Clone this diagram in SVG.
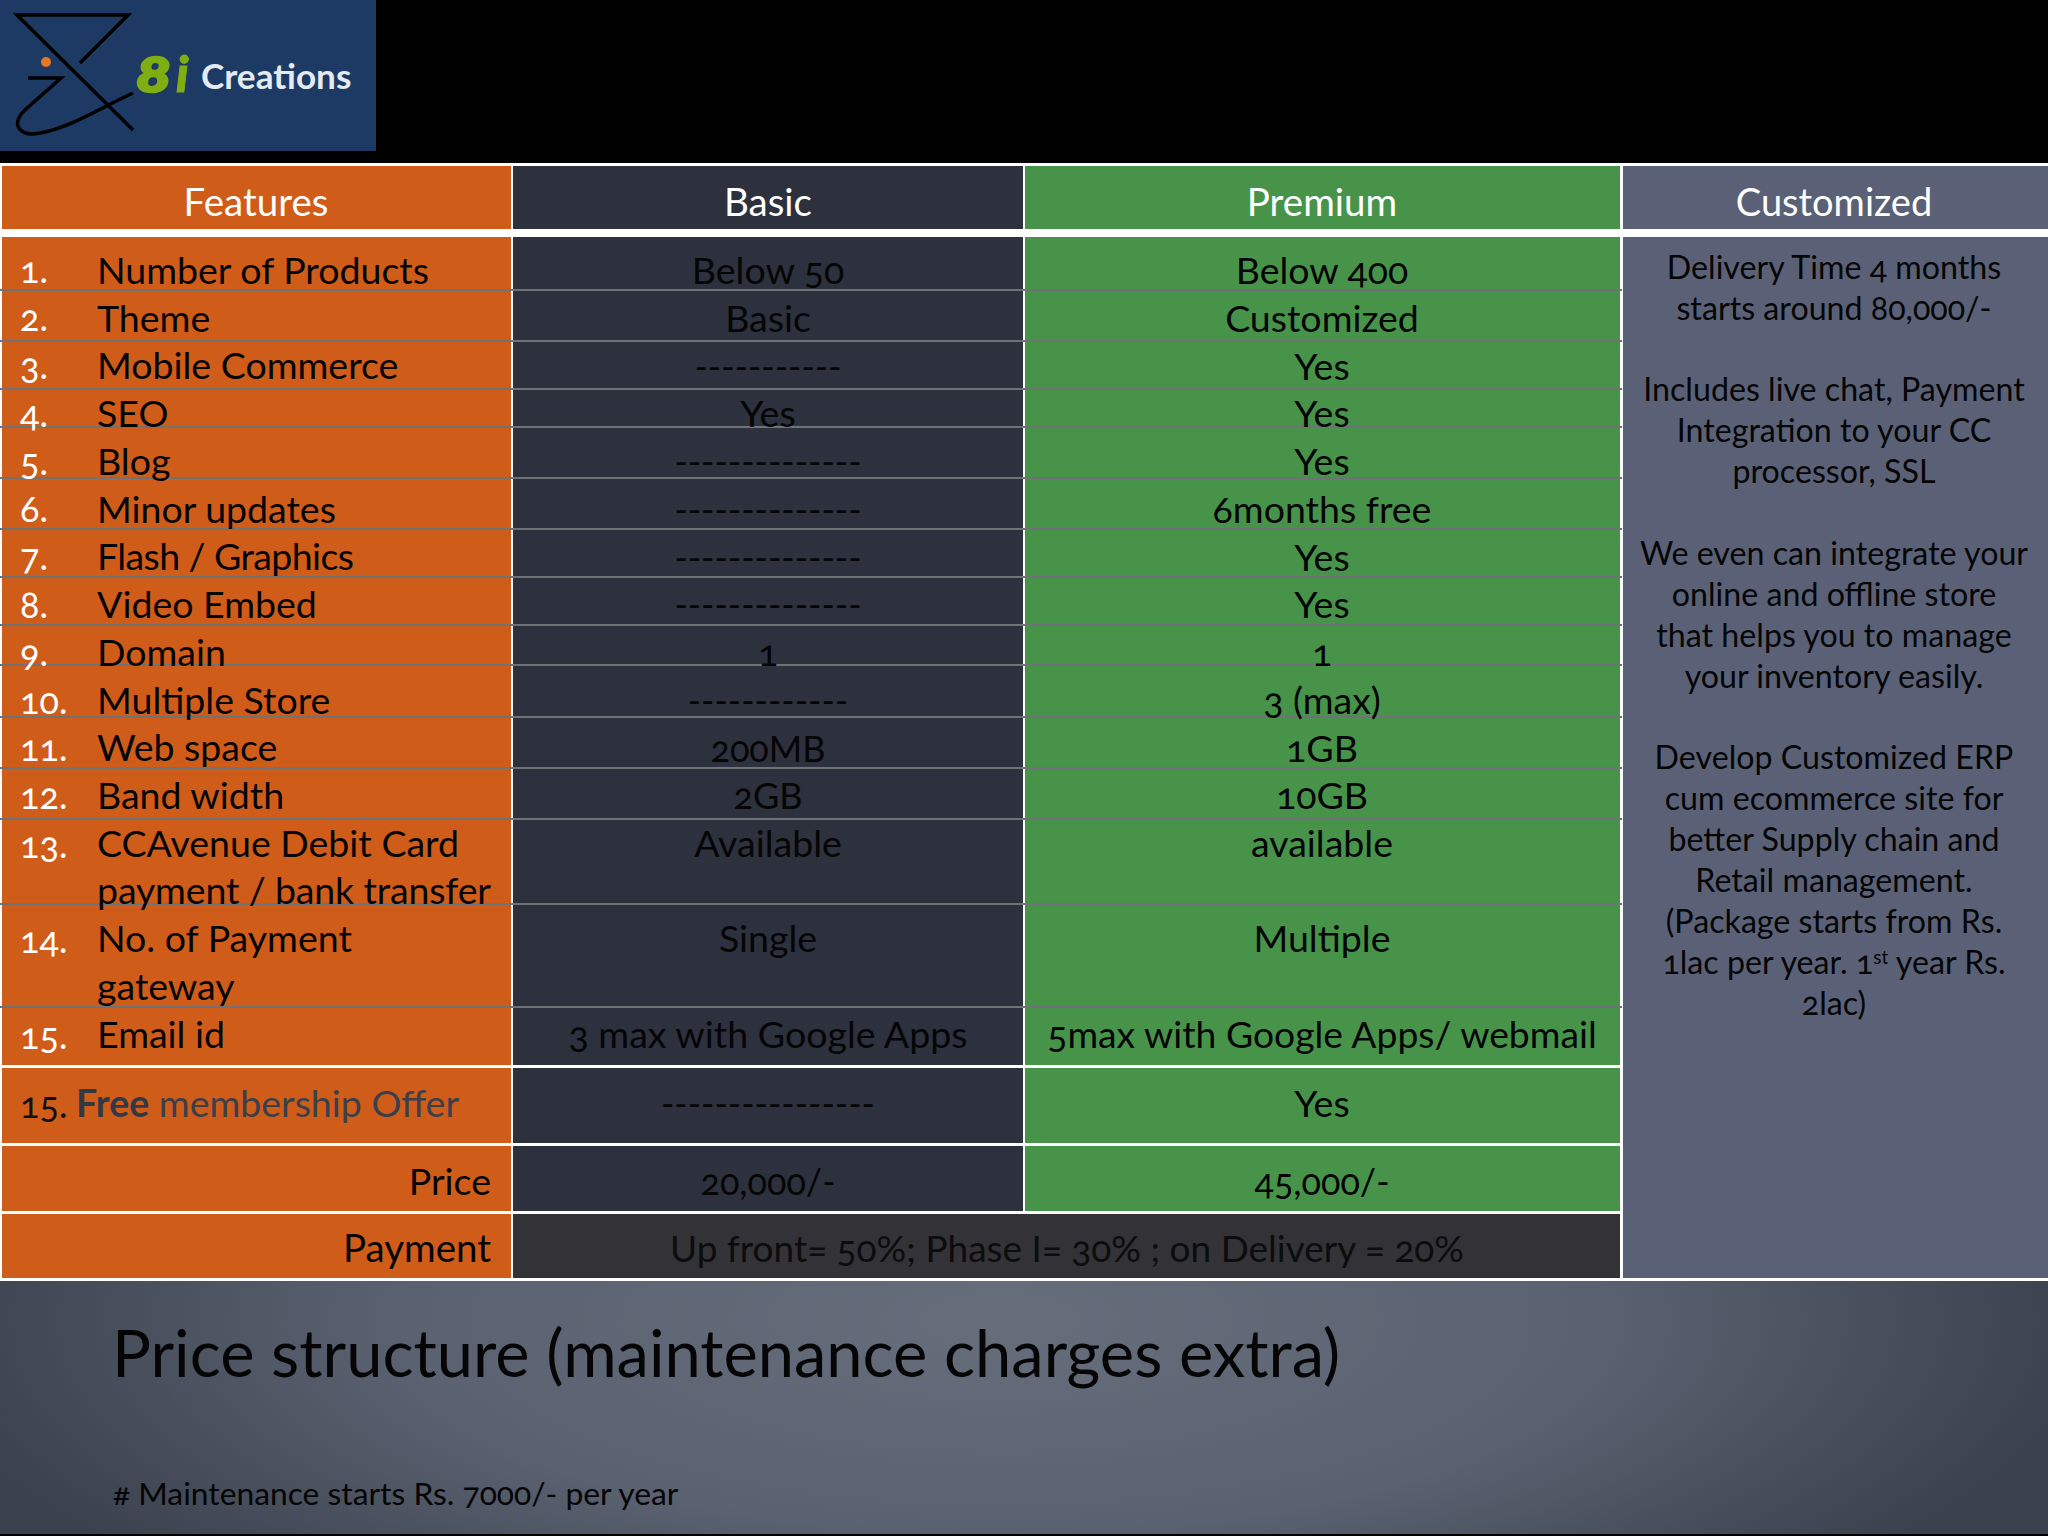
<svg xmlns="http://www.w3.org/2000/svg" width="2048" height="1536" viewBox="0 0 2048 1536">
<defs>
<radialGradient id="foot" gradientUnits="userSpaceOnUse" cx="1000" cy="1320" r="1090" gradientTransform="translate(0 858) scale(1 .35)"><stop offset="0" stop-color="#666e7c"/><stop offset=".55" stop-color="#5a6170"/><stop offset="1" stop-color="#3b414d"/></radialGradient>
</defs>
<style>
text{font-family:"Lato","Open Sans","Liberation Sans",sans-serif;font-size:37.5px;fill:#050505;font-feature-settings:"onum" 1;font-variant-numeric:oldstyle-nums}
.h{fill:#fff;text-anchor:middle;font-size:38.5px}
.n{fill:#fff;font-size:36px}
.m{text-anchor:middle}
.d{text-anchor:middle;font-size:36px}
.e{text-anchor:end}
.c{text-anchor:middle;font-size:32.2px}
.o{fill:#d05c1a}.b{fill:#2d303d}.g{fill:#47934a}.u{fill:#5a6177}
.l{stroke:#6f7277;stroke-width:2}
.v{font-weight:900;font-style:italic;fill:#7fae12;stroke:#7fae12;font-variant-numeric:lining-nums;font-feature-settings:normal}
</style>
<rect width="2048" height="1536" fill="#000"/>
<g id="logo">
<rect width="376" height="151" fill="#1c3a64"/>
<path d="M80 63L128 15H17L133 130M28 78H61L25 110C10 125 20 137 40 133C70 128 100 108 133 93" fill="none" stroke="#000" stroke-width="3.5"/>
<circle cx="46" cy="62" r="5" fill="#e8781f"/>
<text class="v" transform="translate(136 92) scale(1.25 1)" style="font-size:48px;stroke-width:2.5">8</text>
<text class="v" x="176" y="92" style="font-size:50px;stroke-width:1">i</text>
<text x="201" y="89" style="font-size:35.2px;font-weight:700;fill:#e4eaf2">Creations</text>
</g>
<rect id="sheet" y="163" width="2048" height="1118" fill="#fff"/>
<g id="cells">
<rect x="2" y="166" width="509" height="63" class="o"/><rect x="513" y="166" width="510" height="63" class="b"/><rect x="1025" y="166" width="595" height="63" class="g"/><rect x="1623" y="166" width="425" height="63" class="u"/>
<rect x="2" y="237" width="509" height="828" class="o"/><rect x="513" y="237" width="510" height="828" class="b"/><rect x="1025" y="237" width="595" height="828" class="g"/>
<rect x="2" y="1068" width="509" height="75" class="o"/><rect x="513" y="1068" width="510" height="75" class="b"/><rect x="1025" y="1068" width="595" height="75" class="g"/>
<rect x="2" y="1146" width="509" height="65" class="o"/><rect x="513" y="1146" width="510" height="65" class="b"/><rect x="1025" y="1146" width="595" height="65" class="g"/>
<rect x="2" y="1214" width="509" height="64" class="o"/><rect x="513" y="1214" width="1107" height="64" fill="#323237"/>
<rect x="1623" y="237" width="425" height="1041" class="u"/>
</g>
<g id="rules">
<path class="l" d="M0 290H1622M0 341H1622M0 389H1622M0 427H1622M0 478H1622M0 529H1622M0 577H1622M0 625H1622M0 665H1622M0 717H1622M0 768H1622M0 819H1622M0 904H1622M0 1007H1622"/>
</g>
<g id="header">
<text class="h" x="256" y="216">Features</text><text class="h" x="768" y="216">Basic</text><text class="h" x="1322" y="216">Premium</text><text class="h" x="1834" y="216" style="font-size:38px">Customized</text>
</g>
<g id="numbers">
<text class="n" x="20" y="283">1.</text><text class="n" x="20" y="331">2.</text><text class="n" x="20" y="379">3.</text><text class="n" x="20" y="427">4.</text><text class="n" x="20" y="475">5.</text><text class="n" x="20" y="522">6.</text><text class="n" x="20" y="570">7.</text><text class="n" x="20" y="618">8.</text><text class="n" x="20" y="666">9.</text><text class="n" x="20" y="714">10.</text><text class="n" x="20" y="761">11.</text><text class="n" x="20" y="809">12.</text><text class="n" x="20" y="858">13.</text><text class="n" x="20" y="953">14.</text><text class="n" x="20" y="1049">15.</text><text class="n" x="20" y="1118" style="fill:#111">15.</text>
</g>
<g id="features">
<text x="97" y="284">Number of Products</text><text x="97" y="332">Theme</text><text x="97" y="379">Mobile Commerce</text><text x="97" y="427">SEO</text><text x="97" y="475">Blog</text><text x="97" y="523">Minor updates</text><text x="97" y="570" textLength="257">Flash / Graphics</text><text x="97" y="618">Video Embed</text><text x="97" y="666">Domain</text><text x="97" y="714">Multiple Store</text><text x="97" y="761">Web space</text><text x="97" y="809">Band width</text><text x="97" y="857">CCAvenue Debit Card</text><text x="97" y="904" textLength="394">payment / bank transfer</text><text x="97" y="952">No. of Payment</text><text x="97" y="1000">gateway</text><text x="97" y="1048">Email id</text>
<text x="76" y="1117"><tspan style="font-weight:700;fill:#333845">Free</tspan><tspan style="fill:#3a3f4a"> membership Offer</tspan></text>
<text class="e" x="491" y="1195">Price</text><text class="e" x="491" y="1262" style="font-size:38.5px">Payment</text>
</g>
<g id="basic">
<text class="m" x="768" y="284">Below 50</text><text class="m" x="768" y="332">Basic</text><text class="d" x="768" y="380">-----------</text><text class="m" x="768" y="427">Yes</text><text class="d" x="768" y="475">--------------</text><text class="d" x="768" y="523">--------------</text><text class="d" x="768" y="571">--------------</text><text class="d" x="768" y="618">--------------</text><text class="m" x="768" y="666">1</text><text class="d" x="768" y="714">------------</text><text class="d" x="768" y="762">200MB</text><text class="d" x="768" y="809">2GB</text><text class="m" x="768" y="857">Available</text><text class="m" x="768" y="952">Single</text><text class="m" x="768" y="1048">3 max with Google Apps</text><text class="d" x="768" y="1117">----------------</text><text class="d" x="768" y="1195">20,000/-</text>
</g>
<g id="premium">
<text class="m" x="1322" y="284">Below 400</text><text class="m" x="1322" y="332">Customized</text><text class="m" x="1322" y="380">Yes</text><text class="m" x="1322" y="427">Yes</text><text class="m" x="1322" y="475">Yes</text><text class="m" x="1322" y="523">6months free</text><text class="m" x="1322" y="571">Yes</text><text class="m" x="1322" y="618">Yes</text><text class="m" x="1322" y="666">1</text><text class="m" x="1322" y="714">3 (max)</text><text class="m" x="1322" y="762">1GB</text><text class="m" x="1322" y="809">10GB</text><text class="m" x="1322" y="857">available</text><text class="m" x="1322" y="952">Multiple</text><text class="m" x="1322" y="1048" style="font-size:37.3px">5max with Google Apps/ webmail</text><text class="m" x="1322" y="1117">Yes</text><text class="d" x="1322" y="1195">45,000/-</text>
<text class="m" x="1067" y="1262" style="fill:#0c0c0c;font-size:37px">Up front= 50%; Phase I= 30% ; on Delivery = 20%</text>
</g>
<g id="customized">
<text class="c" x="1834" y="279">Delivery Time 4 months</text><text class="c" x="1834" y="320">starts around 80,000/-</text>
<text class="c" x="1834" y="401">Includes live chat, Payment</text><text class="c" x="1834" y="442">Integration to your CC</text><text class="c" x="1834" y="483">processor, SSL</text>
<text class="c" x="1834" y="565">We even can integrate your</text><text class="c" x="1834" y="606">online and offline store</text><text class="c" x="1834" y="647">that helps you to manage</text><text class="c" x="1834" y="688">your inventory easily.</text>
<text class="c" x="1834" y="769">Develop Customized ERP</text><text class="c" x="1834" y="810">cum ecommerce site for</text><text class="c" x="1834" y="851">better Supply chain and</text><text class="c" x="1834" y="892">Retail management.</text><text class="c" x="1834" y="933">(Package starts from Rs.</text><text class="c" x="1834" y="974">1lac per year. 1<tspan dy="-10" style="font-size:19px">st</tspan><tspan dy="10"> year Rs.</tspan></text><text class="c" x="1834" y="1015">2lac)</text>
</g>
<g id="footer">
<rect y="1281" width="2048" height="253" fill="url(#foot)"/>
<text x="112" y="1377" style="font-size:65px">Price structure (maintenance charges extra)</text>
<text x="113" y="1505" style="font-size:31.8px">&#35; Maintenance starts Rs. 7000/- per year</text>
</g>
</svg>
